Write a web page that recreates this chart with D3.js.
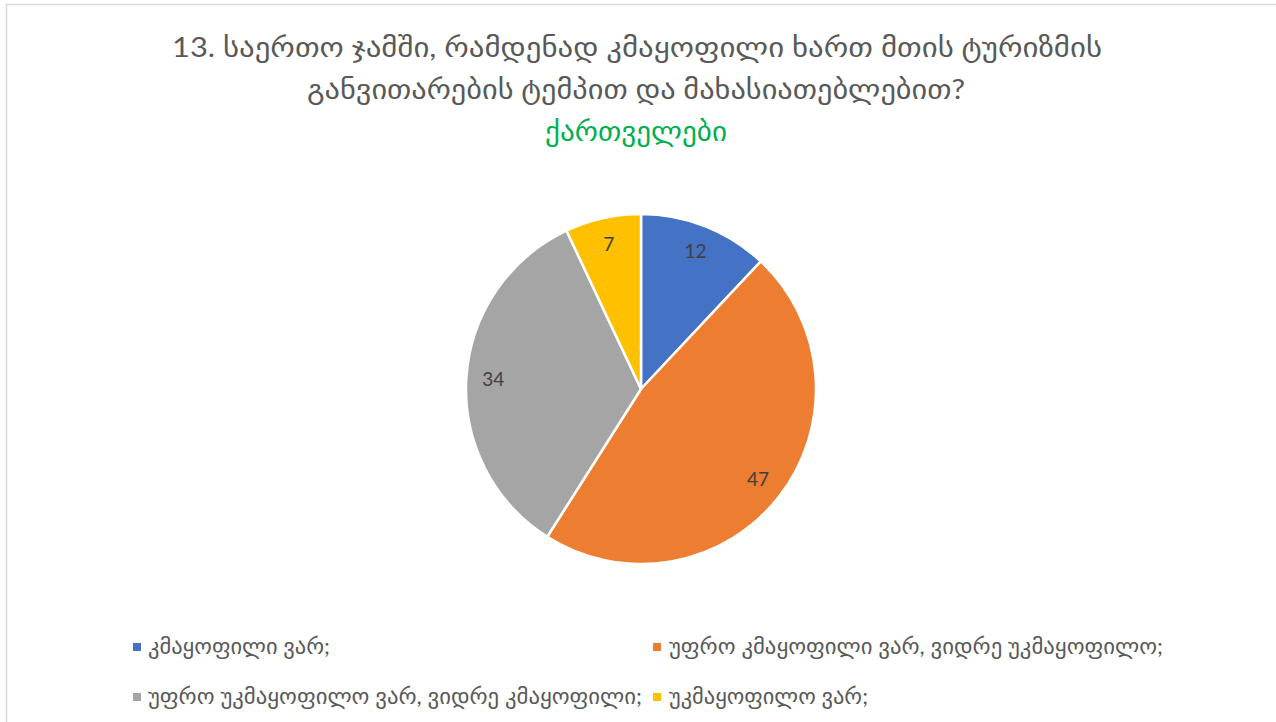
<!DOCTYPE html>
<html>
<head>
<meta charset="utf-8">
<script src="https://cdn.jsdelivr.net/npm/d3@7"></script>
<style>
  html, body { margin: 0; padding: 0; background: #ffffff; }
  svg { display: block; }
</style>
</head>
<body>
<svg id="chart" width="1276" height="722"></svg>
<script>
// Survey answers and their shares (percent)
const categories = [
  "კმაყოფილი ვარ;",
  "უფრო კმაყოფილი ვარ, ვიდრე უკმაყოფილო;",
  "უფრო უკმაყოფილო ვარ, ვიდრე კმაყოფილი;",
  "უკმაყოფილო ვარ;"
];
const values = [12, 47, 34, 7];
const sliceColors = ["#4472C4", "#ED7D31", "#A5A5A5", "#FFC000"];
const titleLines = [
  "13. საერთო ჯამში, რამდენად კმაყოფილი ხართ მთის ტურიზმის",
  "განვითარების ტემპით და მახასიათებლებით?"
];
const subtitle = "ქართველები";

const svg = d3.select("#chart");
const textFont = "Lato, 'DejaVu Sans', sans-serif";

// chart frame
svg.append("rect")
  .attr("x", 6.5).attr("y", 4.5)
  .attr("width", 1400).attr("height", 800)
  .attr("fill", "#ffffff")
  .attr("stroke", "#d9d9d9")
  .attr("stroke-width", 1.5);

// title block
const titleSpec = [
  { text: titleLines[0], y: 57, x0: 172, x1: 1102, color: "#595959", size: 27 },
  { text: titleLines[1], y: 99, x0: 307, x1: 965, color: "#595959", size: 27 },
  { text: subtitle, y: 141, x0: 545, x1: 727, color: "#00B050", size: 27 }
];
svg.selectAll("text.title")
  .data(titleSpec)
  .join("text")
  .attr("class", "title")
  .attr("x", d => (d.x0 + d.x1) / 2)
  .attr("y", d => d.y)
  .attr("text-anchor", "middle")
  .attr("font-family", textFont)
  .attr("font-size", d => d.size)
  .attr("fill", d => d.color)
  .attr("textLength", d => d.x1 - d.x0)
  .attr("lengthAdjust", "spacingAndGlyphs")
  .text(d => d.text);

// pie
const cx = 641, cy = 389, radius = 175;
const pie = d3.pie().value(d => d).sort(null);
const arcs = pie(values);
const arc = d3.arc().innerRadius(0).outerRadius(radius);
const labelArc = d3.arc().innerRadius(148).outerRadius(148);
const color = d3.scaleOrdinal().domain(d3.range(values.length)).range(sliceColors);

const g = svg.append("g").attr("transform", `translate(${cx},${cy})`);
g.selectAll("path")
  .data(arcs)
  .join("path")
  .attr("d", arc)
  .attr("fill", (d, i) => color(i))
  .attr("stroke", "#ffffff")
  .attr("stroke-width", 2.5)
  .attr("stroke-linejoin", "round");

g.selectAll("text.value")
  .data(arcs)
  .join("text")
  .attr("class", "value")
  .attr("transform", d => `translate(${labelArc.centroid(d)})`)
  .attr("text-anchor", "middle")
  .attr("dy", "0.35em")
  .attr("font-family", textFont)
  .attr("font-size", 19)
  .attr("fill", "#404040")
  .text(d => d.data);

// legend
const legendSpec = [
  { x: 133, y: 647, tx0: 148, tx1: 330 },
  { x: 653, y: 647, tx0: 669, tx1: 1163 },
  { x: 133, y: 697, tx0: 148, tx1: 642 },
  { x: 653, y: 697, tx0: 669, tx1: 868 }
];
const legend = svg.selectAll("g.legend")
  .data(categories)
  .join("g")
  .attr("class", "legend");
legend.append("rect")
  .attr("x", (d, i) => legendSpec[i].x)
  .attr("y", (d, i) => legendSpec[i].y - 4)
  .attr("width", 8).attr("height", 8)
  .attr("fill", (d, i) => color(i));
legend.append("text")
  .attr("x", (d, i) => legendSpec[i].tx0)
  .attr("y", (d, i) => legendSpec[i].y)
  .attr("dy", "0.35em")
  .attr("font-family", textFont)
  .attr("font-size", 21)
  .attr("fill", "#595959")
  .attr("textLength", (d, i) => legendSpec[i].tx1 - legendSpec[i].tx0)
  .attr("lengthAdjust", "spacingAndGlyphs")
  .text(d => d);
</script>
</body>
</html>
